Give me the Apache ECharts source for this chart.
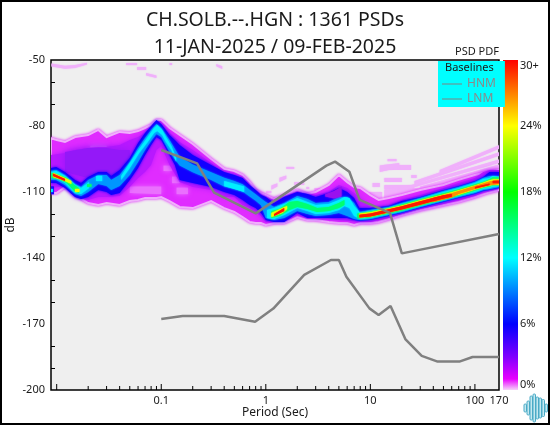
<!DOCTYPE html>
<html>
<head>
<meta charset="utf-8">
<style>html,body{margin:0;padding:0;background:#fff}#c{width:550px;height:425px}</style>
<script src="https://cdn.jsdelivr.net/npm/echarts@6/dist/echarts.min.js"></script>
</head>
<body>
<div id="c"></div>
<script>
// Tick values and labels
const xTickLabels = [0.1, 1, 10, 100, 170];
const xMajorTicks = [0.01, 0.1, 1, 10, 100];
const xMinorTicks = [0.02,0.03,0.04,0.05,0.06,0.07,0.08,0.09,0.2,0.3,0.4,0.5,0.6,0.7,0.8,0.9,2,3,4,5,6,7,8,9,20,30,40,50,60,70,80,90];
const pctStops = [30,27,24,18,15,12,9,6,3,1,0];
const pctColors = ['#ff0000','#ff8000','#ffff00','#00ff00','#00ff80','#00ffff','#0080ff','#0000ff','#8000ff','#e800ff','#f6d4fa'];
const pctLabels = {0:'0%',6:'6%',12:'12%',18:'18%',24:'24%',30:'30+'};

// Baselines [period, dB]
const hnm = [[0.1,-90.9],[0.22,-97],[0.32,-110.3],[0.8,-119.7],[3.8,-98],[4.6,-96.2],[6.3,-100.8],[7.9,-113.6],[15.4,-119.5],[20,-137.9],[170,-129.1]];
const lnm = [[0.1,-167.7],[0.16,-166.4],[0.4,-166.4],[0.79,-169],[1.18,-163],[2.33,-147.7],[4.2,-140.9],[5,-140.9],[5.9,-148.5],[9.8,-162.9],[12,-165.9],[15.6,-161.8],[21.7,-177],[31,-184.5],[44,-187.1],[71,-187.1],[95,-185],[170,-185]];

// PDF contour bands, rows of [period, low dB, high dB]
const magentaBand = [[.0088,-110.4,-85.5],[.01,-110.4,-86.4],[.012,-107.7,-87.3],[.015,-111.4,-85],[.02,-115,-84.1],[.025,-115.9,-81.8],[.03,-115,-85],[.04,-115.9,-82.7],[.05,-114.1,-83.2],[.06,-113.6,-82.3],[.07,-112.7,-80.9],[.08,-112.7,-79.5],[.09,-112.7,-77.3],[.1,-112.3,-77.3],[.12,-114.1,-80.9],[.15,-116.8,-84.1],[.2,-117.3,-88.2],[.3,-114.1,-95],[.4,-117.3,-99.5],[.5,-119.1,-100.5],[.6,-121.4,-102.3],[.7,-123.6,-105.5],[.8,-124.1,-109.1],[.9,-124.1,-110.5],[1,-125,-111.4],[1.2,-124.1,-113.2],[1.5,-124.1,-111.4],[2,-121.4,-109.1],[2.5,-122.7,-110.9],[3,-122.7,-110],[4,-123.6,-106.8],[5,-124.1,-102.3],[6,-124.1,-105.5],[7,-125,-107.7],[8,-124.1,-108.2],[10,-124.1,-111.4],[12,-123.6,-113.6],[15,-122.3,-112.7],[20,-120.5,-111.4],[30,-118.2,-109.1],[50,-115.9,-106.8],[70,-114.5,-104.5],[100,-112.3,-102.3],[130,-110.5,-100.9],[170,-109.1,-100]];
const purpleBand = [[.0088,-108.2,-93.2],[.012,-107.3,-92.3],[.015,-112.3,-90.9],[.02,-113.6,-90],[.025,-112.3,-89.5],[.03,-112.3,-89.5],[.04,-111.8,-88.6],[.05,-107.7,-86.4],[.06,-103.6,-85],[.07,-100.9,-83.2],[.08,-97.7,-81.8],[.09,-90.9,-78.6],[.1,-89.1,-79.1],[.12,-97.7,-83.2],[.15,-105.5,-87.3],[.2,-107.7,-90.9],[.3,-109.1,-96.8],[.4,-112.3,-102.3],[.5,-112.3,-102.7],[.6,-115.9,-103.6],[.7,-117.3,-107.3],[.8,-119.1,-109.1],[.9,-120.9,-110.9],[1,-123.6,-112.7],[1.2,-123.2,-113.6],[1.5,-122.7,-112.3],[2,-120.5,-110],[2.5,-121.4,-110.9],[3,-121.8,-111.4],[4,-121.8,-110],[5,-122.7,-106.8],[6,-123.2,-108.2],[7,-123.2,-110.5],[8,-123.6,-112.7],[10,-123.6,-116.8],[12,-122.7,-117.3],[15,-121.8,-115.9],[20,-120,-113.6],[30,-117.7,-111.4],[50,-115.5,-108.2],[70,-113.6,-105.9],[100,-111.8,-103.6],[120,-110,-100.9],[138,-109.1,-100],[170,-108.6,-100]];
const violetCloud = [[.012,-100.9,-91.8],[.02,-103.6,-90],[.03,-104.5,-90],[.04,-103.6,-90.9],[.05,-97.7,-90.9]];
const blueBand = [[.0088,-105.9,-99.1],[.0099,-105.9,-98.6],[.012,-108.2,-100.9],[.015,-112.3,-104.5],[.0171,-113.2,-105.9],[.02,-112.3,-103.2],[.025,-109.1,-100.9],[.03,-110,-100.9],[.0332,-111.4,-102.7],[.04,-110.5,-100],[.05,-104.5,-94.5],[.06,-99.1,-87.7],[.07,-93.2,-83.2],[.08,-88.6,-80],[.09,-85,-77.3],[.1,-86.4,-79.1],[.12,-93.2,-84.1],[.135,-97.7,-86.4],[.15,-104.5,-88.6],[.2,-105.9,-93.2],[.3,-107.7,-97.7],[.4,-110,-100.9],[.5,-111.4,-102.3],[.6,-113.6,-103.6],[.7,-115.9,-106.8],[.8,-117.3,-109.1],[.9,-119.5,-111.4],[1,-122.7,-112.3],[1.2,-123.6,-115],[1.5,-123.6,-112.3],[2,-119.5,-110],[2.5,-121.8,-110.9],[3,-121.8,-112.3],[4,-121.8,-110.5],[5,-121.8,-108.2],[6,-121.8,-110],[7,-122.7,-112.7],[7.85,-123.2,-117.3],[10,-122.7,-117.3],[15,-120.9,-116.4],[20,-119.5,-114.1],[30,-117.3,-112.3],[50,-114.5,-109.1],[70,-112.7,-107.3],[100,-110.9,-105],[120,-109.5,-103.2],[138,-109.1,-100.9],[170,-108.2,-100.9]];
const blueDot = [[.0088,-111,-107.5],[.0094,-111,-107.5]];
const skyBand = [[.0088,-104.5,-100.4],[.0099,-104.5,-100],[.012,-106.8,-102.3],[.015,-110.9,-106.4],[.0171,-111.8,-107.7],[.02,-110,-104.5],[.025,-106.4,-102.3],[.03,-107.3,-102.3],[.0332,-109.1,-104.5],[.04,-107.3,-102.3],[.05,-102.3,-96.4],[.06,-96.4,-90],[.07,-90.9,-85.5],[.08,-86.8,-81.8],[.09,-83.6,-79.1],[.1,-85,-80.9],[.12,-91.8,-86.4],[.15,-98,-94],[.2,-101,-97.5],[.3,-104.5,-101],[.4,-107.5,-103.5],[.5,-108.5,-105],[.6,-109.8,-106.5],[.7,-112,-109],[.8,-114,-111],[.9,-116,-113],[1,-121.8,-114.5],[1.2,-122.7,-116.8],[1.5,-121.8,-115],[2,-118.6,-111.8],[2.5,-120,-113.2],[3,-120.9,-115],[4,-120.5,-114.5],[5,-119.5,-112.3],[6,-120.9,-112.3],[7,-122.3,-115],[7.85,-122.7,-119.1],[10,-122.3,-118.2],[15,-120.5,-116.8],[20,-119.1,-115],[30,-116.8,-112.7],[50,-114.1,-109.5],[70,-112.3,-107.7],[100,-110.5,-105.5],[120,-109.1,-103.6],[138,-108.6,-102.7],[170,-107.7,-102.7]];
const purpleIsland = [[3.7,-112,-111],[4.5,-113,-109.5],[5.3,-112,-107.5]];
const cyanDot = [[.0088,-110,-108.6],[.0092,-110,-108.6]];
const cyanLeft = [[.0089,-103.6,-100.9],[.0099,-103.6,-100.4],[.012,-105.9,-102.7],[.015,-110.5,-106.8],[.0171,-110.9,-108.2],[.0204,-108.2,-105.5]];
const cyanMid = [[.0238,-105,-102.7],[.0272,-105,-102.7]];
const cyanPeak = [[.0414,-104.5,-102.7],[.05,-99.1,-96.8],[.0615,-92.3,-90.5],[.0731,-87.7,-85.5],[.0854,-83.2,-80.9],[.0916,-82.3,-79.5],[.102,-84.1,-81.8],[.111,-87.3,-85],[.125,-90.9,-89.1],[.139,-96.4,-94.5]];
const cyanPatch = [[.4,-107.3,-105],[.62,-110,-107.5]];
const cyanRight = [[1.03,-121.8,-118.2],[1.2,-122.3,-117.3],[1.5,-120.5,-115.5],[2,-117.3,-112.7],[2.5,-118.6,-114.5],[3,-120,-115.9],[4,-119.5,-115.5],[5,-118.2,-113.6],[5.65,-116.4,-112.3],[6.3,-117.3,-112.7],[7,-120.9,-116.4],[8,-122.3,-119.5],[10,-121.8,-118.6],[15,-120,-117.3],[20,-118.6,-115.5],[30,-116.4,-113.2],[50,-113.6,-110],[70,-111.8,-108.2],[100,-110,-105.9],[120,-108.6,-104.1],[138,-108.2,-103.6],[148,-107.7,-102.7],[170,-107.3,-103.2]];
const greenLeft = [[.0089,-103.6,-101.3],[.0105,-104.1,-102.3],[.0125,-105.9,-103.6],[.0147,-109.5,-106.8],[.0163,-110.5,-108.2]];
const greenSpot = [[.0195,-107.7,-106.4],[.0215,-107.7,-106.4]];
const greenMid = [[1.13,-121.8,-118.6],[1.35,-120.9,-117.7],[1.68,-118.2,-114.5],[2,-116.8,-114.1],[2.5,-117.7,-115.5],[3.1,-119.1,-117.3],[4,-118.6,-116.8],[5,-117.3,-115],[5.65,-115.9,-113.6]];
const greenLong = [[7.5,-122,-119.8],[10,-121.6,-118.9],[15,-119.8,-117.4],[20,-118.5,-115.6],[30,-116.2,-113.3],[50,-113.5,-110.6],[70,-111.7,-108.8],[100,-109.4,-106.5],[123,-108,-105.2],[138,-107.6,-104.2],[148,-107.1,-103.3],[170,-107.1,-103.3]];
const yellowLeft = [[.0092,-103.2,-101.3],[.012,-105,-103.6],[.0138,-106.4,-105]];
const yellowSpot = [[.015,-110,-108.6],[.0165,-110,-108.6]];
const yellowMid = [[1.13,-121.4,-119.5],[1.44,-119.5,-117.3],[1.6,-117.7,-116.4]];
const yellowLong = [[7.85,-121.6,-119.8],[10,-121.2,-119.2],[20,-118,-116.1],[30,-115.8,-113.8],[50,-113,-111.1],[70,-111.2,-109.2],[100,-108.9,-107],[123,-107.6,-105.6],[138,-107.1,-104.7],[151,-106.7,-104.2],[170,-106.7,-104.2]];
const orangeLong = [[40,-114.6,-112.6],[60,-112.5,-110.6],[70,-110.9,-109.5],[100,-108.6,-107.3],[138,-106.9,-105.2],[170,-106.4,-104.6]];
const redLeft = [[.0092,-102.7,-101.6],[.012,-105,-104.1]];
const redMid = [[1.2,-120.9,-120],[1.5,-118.6,-117.3]];
const redLong = [[7.85,-121.6,-120.3],[10,-121.1,-119.8],[20,-118,-116.5],[30,-115.8,-114.2],[50,-113,-111.5],[60,-112.2,-110.9]];
const redEnd1 = [[100,-108.4,-107.7],[138,-106.8,-106.1]];
const redEnd2 = [[148,-106,-104.9],[170,-106,-104.9]];
const paleInside = [
  [[.0985,-87,-85],[.105,-87,-85]],
  [[.05,-110.5,-107.5],[.1,-111,-107.5]],
  [[.105,-100.5,-98],[.127,-100.5,-98]],
  [[.127,-106,-103],[.15,-106,-103]],
  [[.14,-111,-108],[.18,-111,-108]],
  [[.021,-92,-89],[.03,-92,-89]]
];
const paleStreaks = [
  [[.0089,-53,-51.6],[.012,-54,-52.6],[.015,-53.6,-52.3],[.0195,-52,-51.2]],
  [[.0461,-52.3,-51.4],[.0587,-52.3,-51.4]],
  [[.0587,-54.5,-53.2],[.0717,-54.5,-53.2]],
  [[.0717,-57,-55.9],[.09,-58.2,-57]],
  [[.12,-52.3,-51.4],[.127,-52.3,-51.4]],
  [[.336,-52.8,-51.8],[.383,-54.1,-52.8]],
  [[1.57,-99.5,-98.6],[1.87,-99.5,-98.6]],
  [[1.35,-105.5,-103.5],[1.57,-104,-102.5]],
  [[1.13,-109,-107],[1.29,-107.5,-106]],
  [[1.01,-110.5,-109.5],[1.13,-110.5,-109.5]],
  [[1.87,-106.8,-105.5],[2.33,-106.8,-105.5]],
  [[2.44,-108.6,-107.7],[2.6,-108.6,-107.7]],
  [[2.92,-109.5,-108.2],[3.4,-109.5,-108.2]],
  [[14.6,-96,-95],[17.8,-96,-95]],
  [[13.6,-100,-97.7],[24.6,-100,-97.7]],
  [[10.5,-107.7,-105.9],[12.3,-107.7,-105.9]],
  [[12.3,-100.9,-98],[18.9,-99,-96.8]],
  [[9.8,-113.6,-110],[13,-113.6,-110]],
  [[24.6,-103.6,-102.3],[27.7,-103.6,-102.3]],
  [[13.6,-105.5,-103.6],[20,-105.5,-103.6]],
  [[13.6,-109,-106.8],[26.4,-109,-106.8]],
  [[13.6,-112.7,-109.1],[35,-110,-108]],
  [[19,-109.8,-108.4],[170,-96.8,-95.2]],
  [[26.4,-106.6,-105],[170,-93.5,-91.9]],
  [[46,-101.7,-100],[170,-90.3,-88.7]],
  [[30,-110,-107.5],[170,-100.5,-97.5]]
];

function band(rows, color, blur, extra) {
  return {
    type: 'custom', silent: true, clip: true, data: rows, animation: false,
    xAxisIndex: 0, yAxisIndex: 0,
    renderItem: function (params, api) {
      if (params.dataIndex !== rows.length - 1) return null;
      const up = rows.map(r => api.coord([r[0], r[2]]));
      const down = rows.map(r => api.coord([r[0], r[1]])).reverse();
      return {
        type: 'polygon', shape: { points: up.concat(down) },
        style: Object.assign({ fill: color, shadowBlur: blur, shadowColor: color }, extra || {})
      };
    }
  };
}
function ticks(values, len) {
  return {
    type: 'custom', silent: true, data: values.map(v => [v]), animation: false,
    xAxisIndex: 0, yAxisIndex: 0, z: 5,
    encode: { x: 0 },
    renderItem: function (params, api) {
      const p = api.coord([api.value(0), -200]);
      return { type: 'line', shape: { x1: p[0], y1: p[1], x2: p[0], y2: p[1] - len }, style: { stroke: '#000', lineWidth: 1 } };
    }
  };
}

const PALE = '#f0b0fb', MAG = '#e02cff', PUR = '#b818ff', VIO = '#9418f8', BLU = '#1200ff', SKY = '#0096ff', CYA = '#00f0ff', GRN = '#00ff70', YEL = '#eeff00', ORA = '#ff9000', RED = '#ff1800';
const series = [];
paleStreaks.forEach(r => series.push(band(r, PALE, 1.5)));
series.push(band(magentaBand, MAG, 3, { stroke: PALE, lineWidth: 2 }));
paleInside.forEach(r => series.push(band(r, '#ea70fe', 5)));
series.push(band(purpleBand, PUR, 5));
series.push(band(violetCloud, VIO, 8));
series.push(band(blueBand, BLU, 3));
series.push(band(blueDot, BLU, 1));
series.push(band(skyBand, SKY, 2));
series.push(band(purpleIsland, '#9a10ee', 2));
[cyanDot, cyanLeft, cyanMid, cyanPeak, cyanPatch, cyanRight].forEach(r => series.push(band(r, CYA, 2)));
[greenLeft, greenSpot, greenMid, greenLong].forEach(r => series.push(band(r, GRN, 1.5)));
[yellowLeft, yellowSpot, yellowMid, yellowLong].forEach(r => series.push(band(r, YEL, 1.5)));
series.push(band(orangeLong, ORA, 1));
[redLeft, redMid, redLong, redEnd1, redEnd2].forEach(r => series.push(band(r, RED, 1)));

series.push({ name: 'HNM', type: 'line', data: hnm, symbol: 'none', z: 4, animation: false, silent: true, lineStyle: { color: '#808080', width: 2.5 }, itemStyle: { color: '#808080' } });
series.push({ name: 'LNM', type: 'line', data: lnm, symbol: 'none', z: 4, animation: false, silent: true, lineStyle: { color: '#808080', width: 2.5 }, itemStyle: { color: '#808080' } });
series.push(ticks(xMajorTicks, 6));
series.push(ticks(xMinorTicks, 4));

// Colour bar
series.push({
  type: 'custom', silent: true, xAxisIndex: 1, yAxisIndex: 1, data: [[0, 30]], animation: false,
  renderItem: function (params, api) {
    const a = api.coord([0, pctStops[0]]), b = api.coord([1, pctStops[pctStops.length - 1]]);
    return {
      type: 'rect', shape: { x: a[0], y: a[1], width: b[0] - a[0], height: b[1] - a[1] },
      style: { fill: new echarts.graphic.LinearGradient(0, 0, 0, 1, pctStops.map((s, i) => ({ offset: 1 - s / 30, color: pctColors[i] }))) }
    };
  }
});

// Small waveform logo
const logoHeights = [8, 14, 24, 28, 22, 20, 17, 8];
const logo = logoHeights.map((h, i) => ({
  type: 'rect', silent: true, shape: { x: 524 + i * 3, y: 408 - h / 2, width: 2.5, height: h, r: 1 },
  style: { fill: '#c4e8f0', stroke: '#4aaac6', lineWidth: 1 }
}));

const FONT = '"Noto Sans", sans-serif', INK = '#1a1a1a';
const chart = echarts.init(document.getElementById('c'), null, { renderer: 'canvas' });
chart.setOption({
  animation: false,
  textStyle: { fontFamily: FONT, color: INK },
  title: {
    text: 'CH.SOLB.--.HGN : 1361 PSDs\n11-JAN-2025 / 09-FEB-2025',
    left: 'center', top: 2,
    textStyle: { fontFamily: FONT, fontWeight: 'normal', fontSize: 19.5, lineHeight: 27, color: INK }
  },
  legend: {
    data: ['HNM', 'LNM'], orient: 'vertical', left: 438, top: 61, selectedMode: false,
    backgroundColor: '#00ffff', padding: [17, 9, 2, 4], itemWidth: 20, itemHeight: 14, itemGap: 3,
    textStyle: { color: '#8a8a8a', fontFamily: FONT, fontSize: 12 },
    icon: 'path://M0 0H20V1H0Z', itemStyle: { color: '#808080' }
  },
  grid: [
    { left: 51, right: 51, top: 60, bottom: 35, outerBoundsMode: 'none', show: true, backgroundColor: '#efefef', borderColor: '#000', borderWidth: 1.5 },
    { left: 503, width: 15, top: 60, bottom: 35, outerBoundsMode: 'none' }
  ],
  xAxis: [
    {
      type: 'log', logBase: 10, min: 0.00882, max: 170, gridIndex: 0,
      name: 'Period (Sec)', nameLocation: 'middle', nameGap: 17, nameMoveOverlap: false,
      nameTextStyle: { fontFamily: FONT, fontSize: 12, color: INK },
      axisLine: { show: false }, axisTick: { show: false }, splitLine: { show: false }, minorTick: { show: false },
      axisLabel: { customValues: xTickLabels, margin: 5, fontFamily: FONT, fontSize: 11, color: INK, formatter: v => String(xTickLabels.reduce((b, t) => Math.abs(t - v) < Math.abs(b - v) ? t : b)) }
    },
    { type: 'value', min: 0, max: 1, gridIndex: 1, show: false }
  ],
  yAxis: [
    {
      type: 'value', min: -200, max: -50, interval: 30, gridIndex: 0,
      name: 'dB', nameLocation: 'middle', nameGap: 34, nameMoveOverlap: false,
      nameTextStyle: { fontFamily: FONT, fontSize: 12, color: INK },
      axisLine: { show: false }, splitLine: { show: false },
      axisTick: { show: false, inside: true },
      minorTick: { show: true, splitNumber: 3, length: 4, lineStyle: { color: '#000', width: 1 } },
      axisLabel: { margin: 6, fontFamily: FONT, fontSize: 11, color: INK }
    },
    {
      type: 'value', min: 0, max: 30, interval: 6, gridIndex: 1, position: 'right',
      axisLine: { show: false }, axisTick: { show: false }, splitLine: { show: false },
      axisLabel: { margin: 2, fontFamily: FONT, fontSize: 11, color: INK, verticalAlignMinLabel: 'bottom', verticalAlignMaxLabel: 'top', formatter: v => pctLabels[v] }
    }
  ],
  series: series,
  graphic: [
    { type: 'text', silent: true, z: 100, style: { text: 'PSD PDF', x: 455, y: 46, font: '11px ' + FONT, fill: INK } },
    { type: 'text', silent: true, z: 100, style: { text: 'Baselines', x: 445, y: 62, font: '11px ' + FONT, fill: INK } },
    { type: 'group', silent: true, z: 100, children: logo },
    { type: 'rect', silent: true, z: 100, shape: { x: 1, y: 1, width: 548, height: 423 }, style: { fill: 'none', stroke: '#000', lineWidth: 2 } }
  ]
});
</script>
</body>
</html>
